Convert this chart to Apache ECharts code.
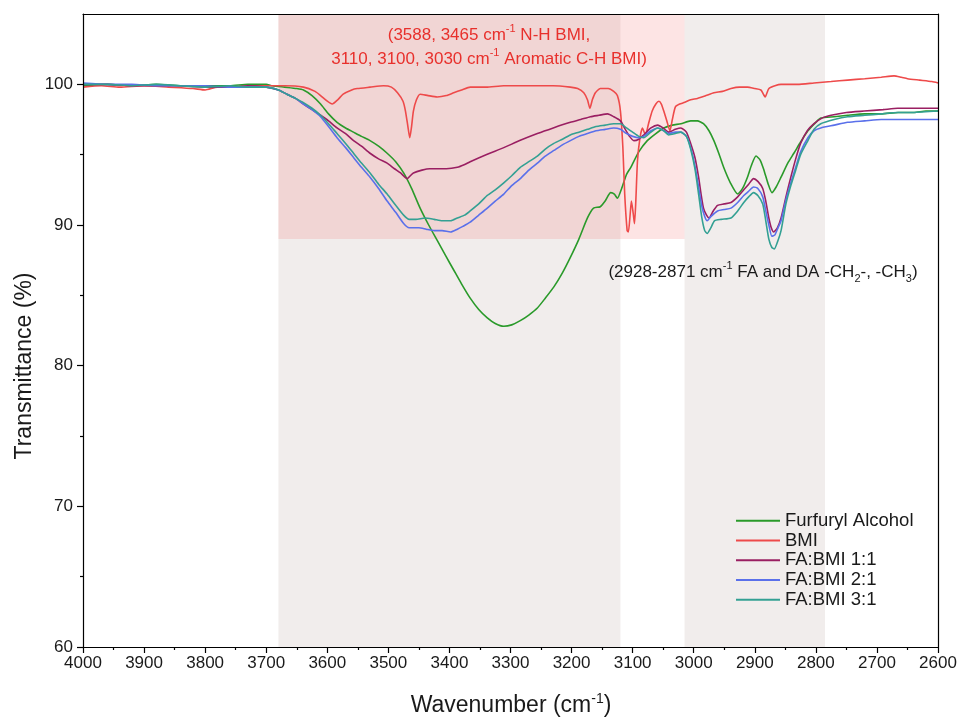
<!DOCTYPE html>
<html><head><meta charset="utf-8">
<script src="https://cdn.jsdelivr.net/npm/echarts@6/dist/echarts.min.js"></script>
<style>html,body{margin:0;padding:0;background:#fff}#c{width:963px;height:721px}</style>
</head><body><div id="c"></div>
<script>
// ---------- Data ----------
const xTicks = [2600, 2700, 2800, 2900, 3000, 3100, 3200, 3300, 3400, 3500, 3600, 3700, 3800, 3900, 4000];
const yTicks = [60, 70, 80, 90, 100];
const yMinorTicks = [65, 75, 85, 95];

const seriesNames = ['Furfuryl Alcohol', 'BMI', 'FA:BMI 1:1', 'FA:BMI 2:1', 'FA:BMI 3:1'];

const faWn = [4000,3960,3920,3880,3840,3800,3760,3730,3700,3690,3670,3650,3639,3625,3611,3598,3584,3570,3557,3544,3530,3516,3502,3488,3475,3462,3448,3434,3420,3406,3393,3380,3366,3352,3338,3325,3311,3298,3284,3270,3256,3243,3229,3215,3202,3188,3174,3164,3153,3145,3136,3130,3125,3118,3110,3103,3090,3076,3062,3049,3035,3021,3005,2994,2984,2975,2967,2959,2951,2940,2928,2920,2912,2905,2898,2891,2885,2878,2872,2865,2857,2846,2836,2825,2813,2800,2792,2770,2748,2720,2693,2665,2639,2620,2600];
const faT  = [99.9,100.0,99.9,100.0,99.9,99.9,99.9,100.0,100.0,99.9,99.8,99.7,99.6,99.2,98.6,97.9,97.3,96.9,96.6,96.3,96.0,95.6,95.1,94.5,93.7,92.6,91.2,90.0,88.9,87.8,86.8,85.8,84.8,84.0,83.4,83.0,82.8,82.9,83.2,83.6,84.1,84.8,85.6,86.6,87.7,89.0,90.5,91.2,91.3,91.7,92.3,92.2,91.9,92.6,93.6,94.1,95.2,96.0,96.5,96.9,97.1,97.2,97.4,97.4,97.2,96.7,96.0,95.1,94.1,93.0,92.2,92.6,93.4,94.3,94.9,94.6,93.9,92.9,92.3,92.7,93.4,94.4,95.1,95.9,96.7,97.3,97.6,97.7,97.8,97.9,97.9,98.0,98.0,98.1,98.1];

const bmiWn = [4000,3970,3940,3900,3860,3820,3800,3780,3750,3720,3700,3670,3639,3620,3611,3600,3592,3583,3574,3560,3551,3530,3508,3495,3485,3476,3472,3468,3465,3462,3459,3454,3448,3435,3420,3405,3393,3380,3366,3340,3311,3280,3256,3230,3202,3190,3180,3174,3170,3166,3161,3153,3140,3131,3125,3120,3116,3113,3109,3107,3104,3102,3099,3097,3095,3092,3088,3084,3079,3074,3068,3062,3057,3053,3049,3044,3039,3035,3030,3023,3016,3005,2994,2980,2967,2953,2939,2925,2912,2900,2890,2886,2883,2880,2877,2867,2857,2830,2803,2775,2748,2720,2693,2672,2660,2650,2630,2610,2600];
const bmiT  = [99.8,99.9,99.8,99.9,99.8,99.7,99.6,99.8,99.8,99.9,99.9,99.9,99.8,99.5,99.2,98.8,98.6,98.9,99.3,99.6,99.7,99.8,99.9,99.8,99.4,98.8,98.1,97.0,96.2,97.0,98.1,98.9,99.3,99.2,99.1,99.2,99.4,99.6,99.8,99.8,99.9,99.9,99.9,99.9,99.8,99.7,99.4,98.9,98.3,98.9,99.4,99.7,99.7,99.5,99.2,98.1,95.5,92.2,89.6,89.5,90.8,91.7,90.8,90.1,91.5,94.6,96.2,96.9,96.4,97.2,98.1,98.6,98.8,98.6,98.1,97.4,96.7,97.5,98.4,98.6,98.7,98.9,99.0,99.2,99.4,99.5,99.7,99.8,99.8,99.7,99.6,99.3,99.1,99.4,99.7,99.9,100.0,100.0,100.1,100.2,100.3,100.4,100.5,100.6,100.5,100.4,100.3,100.2,100.1];

const r11Wn = [4000,3960,3920,3880,3840,3800,3760,3730,3700,3680,3666,3652,3639,3625,3611,3598,3584,3570,3557,3544,3530,3516,3502,3490,3480,3473,3469,3464,3459,3445,3432,3420,3405,3387,3375,3366,3340,3311,3285,3256,3230,3202,3185,3169,3155,3141,3131,3120,3112,3105,3098,3090,3082,3070,3059,3050,3041,3030,3021,3012,3005,2998,2992,2988,2984,2979,2975,2968,2961,2950,2939,2928,2918,2910,2902,2895,2887,2882,2877,2873,2869,2863,2857,2849,2841,2833,2825,2814,2803,2790,2775,2750,2721,2690,2666,2630,2600];
const r11T  = [100.0,100.0,99.9,99.9,99.9,99.8,99.8,99.9,99.8,99.6,99.3,99.0,98.6,98.2,97.8,97.4,96.9,96.5,96.0,95.6,95.1,94.7,94.4,94.0,93.7,93.4,93.3,93.5,93.7,93.9,94.0,94.0,94.0,94.1,94.3,94.5,95.0,95.5,96.0,96.5,96.9,97.3,97.5,97.7,97.8,97.9,97.7,97.4,96.8,96.3,96.0,96.1,96.4,96.9,97.1,96.9,96.6,96.8,96.9,96.6,95.8,94.8,93.4,92.2,91.2,90.7,90.5,91.0,91.4,91.5,91.6,92.0,92.5,92.9,93.3,93.1,92.6,91.7,90.5,89.8,89.5,89.8,90.5,92.0,93.4,94.7,95.8,96.7,97.2,97.6,97.8,98.0,98.1,98.2,98.3,98.3,98.3];

const r21Wn = [4000,3960,3920,3880,3840,3800,3760,3730,3700,3680,3666,3652,3639,3625,3611,3598,3584,3570,3557,3544,3530,3516,3502,3488,3475,3466,3450,3438,3425,3412,3398,3387,3378,3366,3352,3338,3325,3311,3298,3284,3270,3256,3243,3229,3215,3202,3188,3174,3160,3145,3131,3120,3110,3100,3090,3082,3070,3059,3049,3041,3030,3021,3012,3005,2998,2992,2987,2982,2978,2972,2961,2950,2939,2928,2918,2910,2902,2895,2887,2882,2877,2872,2867,2862,2857,2849,2841,2833,2825,2813,2803,2792,2770,2748,2720,2693,2666,2640,2600];
const r21T  = [100.1,100.0,100.0,99.9,99.9,99.9,99.8,99.8,99.8,99.6,99.3,99.0,98.6,98.2,97.7,97.0,96.2,95.5,94.8,94.1,93.4,92.6,91.7,90.9,90.1,89.8,89.8,89.7,89.6,89.6,89.5,89.7,89.9,90.2,90.7,91.2,91.7,92.2,92.8,93.3,93.9,94.4,94.9,95.3,95.7,96.0,96.3,96.5,96.7,96.8,96.9,96.8,96.5,96.3,96.2,96.3,96.7,96.9,96.7,96.5,96.6,96.6,96.3,95.5,94.2,92.7,91.4,90.6,90.3,90.6,91.0,91.1,91.2,91.6,92.1,92.4,92.7,92.6,92.0,91.0,90.0,89.2,89.3,89.8,90.3,91.8,93.0,94.1,95.2,96.2,96.7,96.9,97.1,97.3,97.4,97.5,97.5,97.5,97.5];

const r31Wn = [4000,3960,3920,3880,3840,3800,3760,3730,3700,3680,3666,3652,3639,3625,3611,3598,3584,3570,3557,3544,3530,3516,3502,3488,3475,3466,3455,3440,3425,3412,3398,3387,3375,3366,3352,3338,3325,3311,3298,3284,3270,3256,3243,3229,3215,3202,3188,3174,3160,3145,3131,3120,3110,3100,3090,3082,3070,3059,3049,3041,3030,3021,3012,3005,2998,2992,2987,2982,2978,2972,2966,2955,2939,2928,2918,2910,2902,2895,2887,2882,2877,2872,2868,2862,2857,2849,2841,2833,2825,2813,2803,2792,2770,2748,2720,2693,2666,2640,2600];
const r31T  = [100.0,100.0,99.9,100.0,99.9,99.8,99.9,99.8,99.8,99.6,99.3,99.0,98.7,98.3,97.8,97.2,96.5,95.8,95.1,94.4,93.7,92.9,92.2,91.4,90.7,90.4,90.4,90.5,90.4,90.3,90.3,90.5,90.7,91.0,91.5,92.1,92.5,93.0,93.5,94.1,94.5,94.9,95.4,95.8,96.1,96.4,96.6,96.8,97.0,97.1,97.2,97.2,96.9,96.6,96.3,96.2,96.6,96.9,96.7,96.4,96.5,96.6,96.3,95.4,94.0,92.2,90.6,89.6,89.4,89.8,90.3,90.4,90.5,91.0,91.6,92.0,92.3,92.1,91.5,90.3,89.0,88.4,88.3,88.9,89.6,91.5,92.8,93.9,95.0,96.0,96.8,97.2,97.5,97.7,97.8,97.9,98.0,98.0,98.1];

// shaded bands (wavenumber ranges / transmittance limit)
const greyBands = [[3680, 3120], [3015, 2785]];
const pinkBand = [3680, 3015, 89];

// ---------- Chart ----------
const FONT = '"Liberation Sans", Arial, Helvetica, sans-serif';
const zip = (a, b) => a.map((v, i) => [v, b[i]]);
const colors = ['#2a9a2a', '#ee4a4a', '#9a1f62', '#5a70ea', '#33a093'];
const wns = [faWn, bmiWn, r11Wn, r21Wn, r31Wn];
const vals = [faT, bmiT, r11T, r21T, r31T];

const chart = echarts.init(document.getElementById('c'), null, {renderer: 'canvas'});

const lineSeries = seriesNames.map((n, i) => ({
  name: n, type: 'line', data: zip(wns[i], vals[i]),
  xAxisIndex: 0, yAxisIndex: 0,
  showSymbol: false, symbol: 'none', smooth: 0.2, z: 3,
  lineStyle: {color: colors[i], width: 1.6}, itemStyle: {color: colors[i]},
  emphasis: {disabled: true}
}));

const areaData = greyBands.map(b => [
  {coord: [b[0], 60], itemStyle: {color: '#f1edec'}}, {coord: [b[1], 105]}
]);
areaData.push([
  {coord: [pinkBand[0], pinkBand[2]], itemStyle: {color: 'rgba(245,120,120,0.2)'}}, {coord: [pinkBand[1], 105]}
]);

const option = {
  animation: false,
  backgroundColor: '#fff',
  textStyle: {fontFamily: FONT},
  grid: {left: 83, right: 25, top: 14, bottom: 74, containLabel: false},
  xAxis: [{
    type: 'value', min: 2600, max: 4000, interval: 100, inverse: true,
    axisLine: {show: true, onZero: false, lineStyle: {color: '#000', width: 1.2}},
    axisTick: {show: true, inside: false, length: 6, lineStyle: {color: '#000', width: 1.2}},
    minorTick: {show: true, splitNumber: 2, length: 3, lineStyle: {color: '#000', width: 1.2}},
    axisLabel: {fontSize: 17, color: '#1a1a1a', margin: 8, fontFamily: FONT, formatter: v => String(v)},
    splitLine: {show: false}, z: 10
  }, {
    type: 'value', position: 'top', min: 2600, max: 4000, inverse: true,
    axisLine: {show: true, onZero: false, lineStyle: {color: '#000', width: 1.2}},
    axisTick: {show: false}, axisLabel: {show: false}, splitLine: {show: false}, z: 10
  }],
  yAxis: [{
    type: 'value', min: 60, max: 105, interval: 10,
    axisLine: {show: true, onZero: false, lineStyle: {color: '#000', width: 1.2}},
    axisTick: {show: true, inside: false, length: 6, customValues: yTicks, lineStyle: {color: '#000', width: 1.2}},
    axisLabel: {fontSize: 17, color: '#1a1a1a', margin: 10, customValues: yTicks, fontFamily: FONT, formatter: v => String(v)},
    splitLine: {show: false}, z: 10
  }, {
    type: 'value', position: 'left', min: 60, max: 105, interval: 5,
    axisLine: {show: false},
    axisTick: {show: true, inside: false, length: 3, customValues: yMinorTicks, lineStyle: {color: '#000', width: 1.2}},
    axisLabel: {show: false}, splitLine: {show: false}, z: 10
  }, {
    type: 'value', position: 'right', min: 60, max: 105,
    axisLine: {show: true, onZero: false, lineStyle: {color: '#000', width: 1.2}},
    axisTick: {show: false}, axisLabel: {show: false}, splitLine: {show: false}, z: 10
  }],
  legend: {
    data: seriesNames, orient: 'vertical', left: 736, top: 511, padding: 0,
    icon: 'rect', itemWidth: 44, itemHeight: 2, itemGap: 0,
    textStyle: {fontSize: 18.5, color: '#1a1a1a', fontFamily: FONT, lineHeight: 19.7},
    selectedMode: false
  },
  series: [{
    name: 'bands', type: 'line', data: [], z: 1, silent: true,
    xAxisIndex: 0, yAxisIndex: 0,
    markArea: {silent: true, data: areaData, label: {show: false}}
  }].concat(lineSeries),
  graphic: [{
    type: 'text', x: 489, y: 23, z: 20, silent: true,
    style: {
      text: '(3588, 3465 cm{sup|-1} N-H BMI,\n3110, 3100, 3030 cm{sup|-1} Aromatic C-H BMI)',
      fill: '#e8302c', font: '17px ' + FONT, textAlign: 'center', textVerticalAlign: 'top', lineHeight: 24,
      rich: {sup: {fontSize: 11, lineHeight: 14, verticalAlign: 'top', fill: '#e8302c', fontFamily: FONT}}
    }
  }, {
    type: 'text', x: 763, y: 272, z: 20, silent: true,
    style: {
      text: '(2928-2871 cm{sup|-1} FA and DA -CH{sub|2}-, -CH{sub|3})',
      fill: '#1a1a1a', font: '17px ' + FONT, textAlign: 'center', textVerticalAlign: 'middle', lineHeight: 24,
      rich: {
        sup: {fontSize: 11, lineHeight: 14, verticalAlign: 'top', fill: '#1a1a1a', fontFamily: FONT},
        sub: {fontSize: 11, lineHeight: 12, verticalAlign: 'bottom', fill: '#1a1a1a', fontFamily: FONT}
      }
    }
  }, {
    type: 'text', x: 511, y: 706, z: 20, silent: true,
    style: {
      text: 'Wavenumber (cm{sup|-1})',
      fill: '#1a1a1a', font: '23px ' + FONT, textAlign: 'center', textVerticalAlign: 'middle', lineHeight: 28,
      rich: {sup: {fontSize: 14, lineHeight: 16, verticalAlign: 'top', fill: '#1a1a1a', fontFamily: FONT}}
    }
  }, {
    type: 'text', x: 25, y: 366, rotation: Math.PI / 2, z: 20, silent: true,
    style: {
      text: 'Transmittance (%)', fill: '#1a1a1a', font: '23px ' + FONT,
      textAlign: 'center', textVerticalAlign: 'middle'
    }
  }]
};
chart.setOption(option);
</script>
</body></html>
